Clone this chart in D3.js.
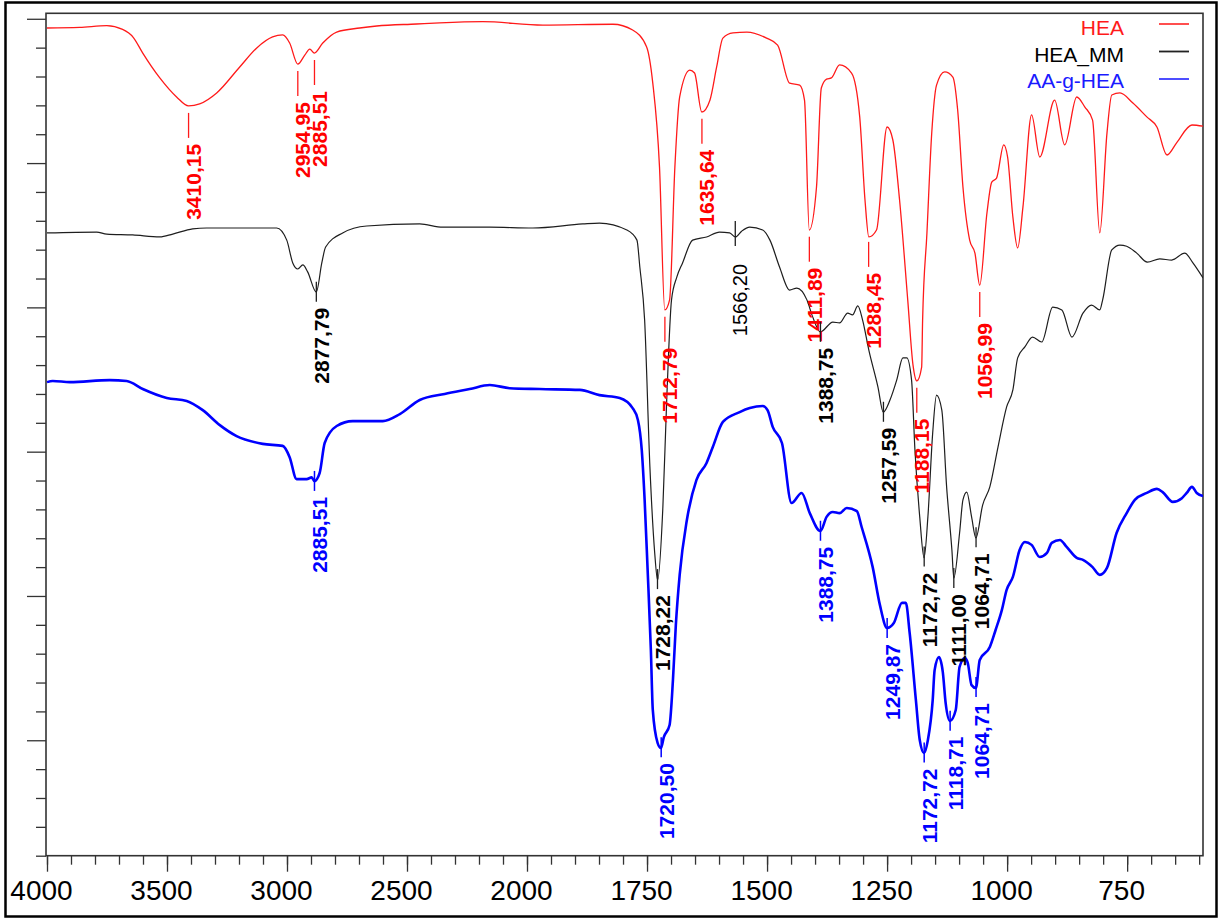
<!DOCTYPE html>
<html>
<head>
<meta charset="utf-8">
<script src="https://cdn.jsdelivr.net/npm/d3@7"></script>
<style>
  body { margin: 0; background: #fff; }
  text { font-family: "Liberation Sans", Arial, sans-serif; }
</style>
</head>
<body>
<svg id="chart" width="1230" height="921"></svg>
<script>
// spectra: [wavenumber (cm-1), transmittance in tick units, stacked]
const hea = [
  [4000, 28.68], [3864, 28.70], [3751, 28.76], [3685, 28.63], [3640, 28.35], [3601, 27.81],
  [3530, 26.95], [3460, 26.29], [3410, 25.98], [3364, 26.05], [3293, 26.43], [3197, 27.33],
  [3126, 27.99], [3060, 28.37], [3018, 28.44], [2989, 28.16], [2955, 27.43], [2926, 27.74],
  [2905, 27.95], [2886, 27.81], [2851, 28.16], [2793, 28.54], [2697, 28.68], [2626, 28.75],
  [2460, 28.82], [2364, 28.86], [2184, 28.90], [1967, 28.78], [1821, 28.81], [1780, 28.61],
  [1751, 28.03], [1738, 26.77], [1724, 23.86], [1713, 18.91], [1703, 19.26], [1692, 23.86],
  [1682, 26.29], [1661, 27.22], [1651, 27.12], [1636, 25.77], [1619, 26.18], [1605, 27.33],
  [1592, 28.33], [1571, 28.51], [1542, 28.54], [1501, 28.33], [1478, 28.09], [1453, 26.77],
  [1432, 26.70], [1422, 26.18], [1412, 21.68], [1397, 23.17], [1387, 26.60], [1376, 26.91],
  [1366, 26.95], [1349, 27.40], [1324, 27.12], [1307, 25.60], [1296, 22.72], [1288, 21.44],
  [1272, 21.68], [1250, 25.25], [1238, 24.80], [1224, 22.72], [1207, 19.26], [1196, 17.00],
  [1188, 16.45], [1178, 16.93], [1176, 18.56], [1167, 21.58], [1157, 25.04], [1147, 26.70],
  [1130, 27.16], [1113, 26.98], [1103, 25.84], [1092, 23.17], [1078, 21.33], [1067, 20.88],
  [1057, 19.77], [1042, 22.27], [1032, 23.34], [1022, 23.48], [1007, 24.63], [999, 24.21],
  [988, 22.13], [978, 21.06], [967, 22.48], [949, 25.67], [932, 24.21], [901, 26.18],
  [880, 24.63], [855, 26.29], [838, 25.94], [822, 25.49], [807, 21.58], [792, 25.04],
  [782, 26.36], [765, 26.43], [738, 26.08], [709, 25.60], [688, 25.25], [667, 24.28],
  [647, 24.70], [615, 25.32], [592, 25.28]
]

const heaMM = [
  [4000, 21.58], [3793, 21.61], [3751, 21.54], [3643, 21.51], [3530, 21.44], [3476, 21.54],
  [3393, 21.72], [3335, 21.75], [3043, 21.75], [3001, 21.33], [2976, 20.54], [2955, 20.33],
  [2934, 20.47], [2914, 20.23], [2878, 19.53], [2855, 20.54], [2839, 21.09], [2768, 21.58],
  [2668, 21.82], [2447, 21.89], [2351, 21.78], [2155, 21.78], [1988, 21.75], [1884, 21.89],
  [1849, 21.92], [1792, 21.68], [1771, 21.33], [1765, 20.40], [1755, 18.56], [1744, 13.47],
  [1734, 10.49], [1728, 9.55], [1717, 12.08], [1709, 15.79], [1699, 19.26], [1688, 20.05],
  [1676, 20.54], [1655, 21.33], [1626, 21.44], [1599, 21.61], [1578, 21.58], [1566, 21.44],
  [1553, 21.64], [1536, 21.78], [1509, 21.68], [1494, 21.33], [1474, 20.40], [1453, 19.60],
  [1438, 19.67], [1417, 19.26], [1405, 18.67], [1389, 18.15], [1363, 18.49], [1349, 18.46],
  [1332, 18.80], [1322, 18.74], [1311, 19.05], [1301, 18.56], [1288, 17.52], [1269, 16.24],
  [1258, 15.37], [1244, 15.79], [1230, 16.48], [1217, 17.25], [1209, 17.25], [1199, 16.48],
  [1192, 14.06], [1182, 11.74], [1173, 10.32], [1165, 11.74], [1155, 14.65], [1147, 15.96],
  [1136, 15.44], [1126, 12.78], [1115, 10.59], [1111, 9.62], [1099, 11.18], [1092, 12.33],
  [1084, 12.60], [1074, 11.74], [1065, 11.01], [1051, 12.15], [1036, 12.78], [1019, 14.16],
  [1001, 15.55], [988, 16.14], [978, 17.25], [963, 17.63], [947, 17.97], [928, 17.80],
  [905, 19.01], [886, 18.91], [865, 17.97], [842, 18.80], [824, 19.08], [807, 18.91],
  [801, 19.26], [782, 20.99], [765, 21.16], [751, 21.12], [730, 20.88], [708, 20.57],
  [682, 20.68], [657, 20.64], [630, 20.88], [613, 20.54], [592, 20.02]
]

const aaGHea = [
  [4000, 16.41], [3976, 16.45], [3905, 16.41], [3739, 16.48], [3668, 16.45], [3601, 16.17],
  [3501, 15.86], [3418, 15.76], [3351, 15.44], [3280, 14.92], [3210, 14.54], [3101, 14.27],
  [3018, 14.20], [2989, 13.81], [2960, 13.05], [2918, 13.05], [2897, 13.11], [2886, 12.98],
  [2864, 13.26], [2843, 14.30], [2793, 14.89], [2726, 15.06], [2601, 15.06], [2530, 15.30],
  [2447, 15.79], [2343, 16.00], [2239, 16.17], [2155, 16.31], [2072, 16.20], [1974, 16.17],
  [1890, 16.14], [1849, 15.96], [1807, 15.86], [1780, 15.51], [1769, 15.10], [1761, 14.06],
  [1755, 12.33], [1749, 10.00], [1742, 7.13], [1738, 5.05], [1728, 3.91], [1721, 3.73],
  [1715, 4.11], [1703, 4.53], [1696, 6.09], [1690, 7.99], [1682, 9.73], [1667, 11.63],
  [1647, 13.02], [1626, 13.61], [1613, 14.16], [1592, 15.03], [1557, 15.37], [1536, 15.51],
  [1509, 15.58], [1499, 15.44], [1488, 14.85], [1469, 14.30], [1449, 12.22], [1428, 12.57],
  [1411, 11.87], [1389, 11.25], [1376, 11.74], [1363, 11.91], [1349, 11.87], [1334, 12.05],
  [1313, 11.94], [1303, 11.39], [1280, 10.00], [1265, 8.69], [1250, 7.89], [1236, 8.06],
  [1219, 8.76], [1211, 8.76], [1203, 7.72], [1190, 5.39], [1182, 4.01], [1173, 3.56],
  [1165, 4.01], [1155, 5.39], [1151, 6.43], [1142, 6.88], [1134, 6.37], [1128, 5.29],
  [1119, 4.67], [1107, 5.05], [1099, 6.54], [1088, 6.85], [1082, 6.68], [1074, 5.91],
  [1065, 5.81], [1057, 6.78], [1036, 7.23], [1024, 7.82], [1011, 8.51], [1001, 9.21],
  [988, 9.66], [974, 10.59], [963, 10.87], [949, 10.77], [932, 10.35], [917, 10.49],
  [907, 10.84], [890, 10.94], [876, 10.70], [855, 10.32], [842, 10.25], [822, 10.00],
  [807, 9.73], [792, 9.97], [772, 11.18], [751, 11.87], [734, 12.33], [709, 12.57],
  [688, 12.71], [676, 12.60], [655, 12.26], [636, 12.39], [626, 12.57], [615, 12.78],
  [605, 12.57], [592, 12.46]
]

const seriesNames = ["HEA", "HEA_MM", "AA-g-HEA"]

// peak picks: [series index, wavenumber, label]
const peakLabels = [
  [0, 3410.15, "3410,15"], [0, 2954.95, "2954,95"], [0, 2885.51, "2885,51"],
  [0, 1712.79, "1712,79"], [0, 1635.64, "1635,64"], [0, 1411.89, "1411,89"],
  [0, 1288.45, "1288,45"], [0, 1188.15, "1188,15"], [0, 1056.99, "1056,99"],
  [1, 2877.79, "2877,79"], [1, 1728.22, "1728,22"], [1, 1566.20, "1566,20"],
  [1, 1388.75, "1388,75"], [1, 1257.59, "1257,59"], [1, 1172.72, "1172,72"],
  [1, 1111.00, "1111,00"], [1, 1064.71, "1064,71"],
  [2, 2885.51, "2885,51"], [2, 1720.50, "1720,50"], [2, 1388.75, "1388,75"],
  [2, 1249.87, "1249,87"], [2, 1172.72, "1172,72"], [2, 1118.71, "1118,71"],
  [2, 1064.71, "1064,71"]
]

const xMajorTicks = [4000, 3500, 3000, 2500, 2000, 1750, 1500, 1250, 1000, 750]

// drawing
const svg = d3.select("#chart")
const plotLeft = 47, plotRight = 1203, plotTop = 13.3, plotBottom = 855.7

// the wavenumber axis doubles its scale below 2000
const x = d3.scaleLinear().domain([4000, 2000, 592]).range([plotLeft, 527, plotRight])
const y = d3.scaleLinear().domain([0, 29.19]).range([plotBottom, plotTop])

const series = [
  {data: hea, color: "#ff1a1a", width: 1.3, legend: "#ff3b3b"},
  {data: heaMM, color: "#1e1e1e", width: 1.2, legend: "#222"},
  {data: aaGHea, color: "#0000ff", width: 2.6, legend: "#3a3aff"}
]

// outer frame
svg.append("rect").attr("x", 5.5).attr("y", 2.5).attr("width", 1211).attr("height", 914)
  .attr("fill", "none").attr("stroke", "#000").attr("stroke-width", 2.5)

svg.append("clipPath").attr("id", "plotclip").append("rect")
  .attr("x", plotLeft - 1).attr("y", plotTop).attr("width", plotRight - plotLeft + 1).attr("height", plotBottom - plotTop)

// x axis, minor ticks then major ticks with labels
const xMinor = d3.range(4000, 2000, -100).concat(d3.range(2000, 590, -50))
svg.append("g").attr("transform", `translate(0,${plotBottom})`)
  .call(d3.axisBottom(x).tickValues(xMinor).tickSize(9).tickFormat(""))
  .call(g => g.select(".domain").remove())
  .call(g => g.selectAll("line").attr("stroke", "#333").attr("stroke-width", 1.3))

svg.append("g").attr("transform", `translate(0,${plotBottom})`)
  .call(d3.axisBottom(x).tickValues(xMajorTicks).tickSize(16).tickPadding(8).tickFormat(d3.format("d")))
  .call(g => g.select(".domain").remove())
  .call(g => g.selectAll("line").attr("stroke", "#333").attr("stroke-width", 1.3))
  .call(g => g.selectAll("text").attr("font-size", 28).attr("fill", "#000").attr("dx", -6)
    .attr("font-family", "'Liberation Sans', Arial, sans-serif"))

// y axis has ticks only
const yTicks = d3.range(0, 30)
svg.append("g").attr("transform", `translate(${plotLeft - 1},0)`)
  .call(d3.axisLeft(y).tickValues(yTicks).tickSize(10).tickFormat(""))
  .call(g => g.select(".domain").remove())
  .call(g => g.selectAll("line").attr("stroke", "#333").attr("stroke-width", 1.3)
    .attr("x2", d => (d - 4) % 5 === 0 ? -19 : -10))

// plot border
svg.append("rect").attr("x", plotLeft - 1).attr("y", plotTop).attr("width", plotRight - plotLeft + 1).attr("height", plotBottom - plotTop)
  .attr("fill", "none").attr("stroke", "#333").attr("stroke-width", 1.6)

// spectra, smoothed without overshooting the picked minima
const line = d3.line().x(d => x(d[0])).y(d => y(d[1])).curve(d3.curveMonotoneX)
const curves = svg.append("g").attr("clip-path", "url(#plotclip)")
series.forEach(s => {
  curves.append("path").datum(s.data)
    .attr("fill", "none").attr("stroke", s.color).attr("stroke-width", s.width)
    .attr("stroke-linejoin", "round").attr("d", line)
})

// value of a spectrum at a given wavenumber
function valueAt(data, wn) {
  for(let i = 0; i < data.length - 1; i++) {
    const a = data[i], b = data[i + 1]
    if(a[0] >= wn && b[0] <= wn) {
      const t = (a[0] - wn) / (a[0] - b[0])
      return a[1] + t * (b[1] - a[1])
    }
  }
  return data[data.length - 1][1]
}

// peak labels: a short marker line and the vertical wavenumber below it
const thinLabels = new Set(["1566,20"])
const labels = svg.append("g")
peakLabels.forEach(([si, wn, text]) => {
  const s = series[si]
  const px = x(wn)
  const py = y(valueAt(s.data, wn))
  const thin = thinLabels.has(text)
  // red picks hang below the trace, the others cross it
  let l0 = si === 0 ? 7 : -10, l1 = si === 0 ? 32 : 10, gap = si === 0 ? 38 : 16
  if(thin) { l0 = -16; l1 = 9; gap = 27 }
  labels.append("line").attr("x1", px).attr("x2", px).attr("y1", py + l0).attr("y2", py + l1)
    .attr("stroke", s.color).attr("stroke-width", si === 2 ? 1.5 : 1.3)
  labels.append("text")
    .attr("transform", `translate(${px + 5},${py + gap}) rotate(-90)`)
    .attr("text-anchor", "end").attr("dominant-baseline", "central")
    .attr("font-size", thin ? 20 : 21).attr("font-weight", thin ? "normal" : "bold")
    .attr("fill", si === 0 ? "#ff0000" : si === 1 ? "#000" : "#0000ff")
    .text(text)
})

// legend
const legend = svg.append("g")
seriesNames.forEach((name, i) => {
  legend.append("text").attr("x", 1124).attr("y", 35 + i * 26.7)
    .attr("text-anchor", "end").attr("font-size", 21)
    .attr("fill", i === 0 ? "#ff1a1a" : i === 1 ? "#000" : "#1a1aff")
    .text(name)
  legend.append("line").attr("x1", 1159).attr("x2", 1189)
    .attr("y1", 24 + i * 27.5).attr("y2", 24 + i * 27.5)
    .attr("stroke", series[i].legend).attr("stroke-width", 1.8)
})
</script>
</body>
</html>
